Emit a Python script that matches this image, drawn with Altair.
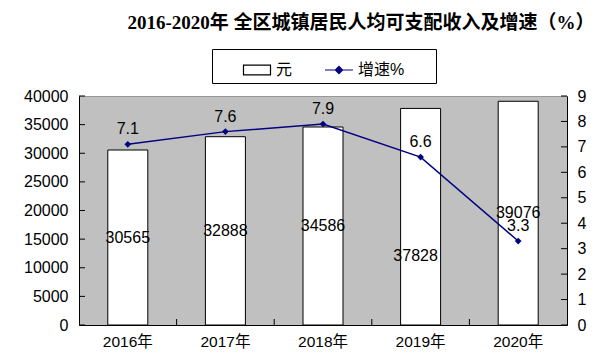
import altair as alt
import pandas as pd

years = ["2016年", "2017年", "2018年", "2019年", "2020年"]
income = [30565, 32888, 34586, 37828, 39076]
growth = [7.1, 7.6, 7.9, 6.6, 3.3]
left_ticks = [0, 5000, 10000, 15000, 20000, 25000, 30000, 35000, 40000]
right_ticks = [0, 1, 2, 3, 4, 5, 6, 7, 8, 9]
legend_items = ["元", "增速%"]
title_text = "2016-2020年 全区城镇居民人均可支配收入及增速（%）"

df = pd.DataFrame({"year": years, "income": income, "growth": growth})
df_lt = pd.DataFrame({"v": left_ticks})
df_rt = pd.DataFrame({"v": right_ticks})
df_bt = pd.DataFrame({"year": years[1:]})

# trailing invisible padding on the last legend label widens the legend frame
PAD = "\u00a0" * 6 + "\u200b"
legend_keys = [legend_items[0], legend_items[1] + PAD]
df_leg = pd.DataFrame({"item": legend_keys})

W, H = 488, 229
FONT = "Liberation Sans, Noto Sans CJK SC"
NAVY = "#000080"

xscale = alt.Scale(domain=years, paddingInner=0, paddingOuter=0)
xaxis = alt.Axis(labelAngle=0, ticks=False, tickSize=0, labelPadding=9,
                 labelFontSize=15.5, labelFont=FONT, labelColor="black",
                 domainColor="black", domainWidth=1, grid=False, title=None)
X = alt.X("year:N", sort=years, scale=xscale, axis=xaxis)

lscale = alt.Scale(domain=[0, 40000], nice=False)
laxis = alt.Axis(values=left_ticks, format="d", ticks=False, tickSize=0, labelPadding=11,
                 labelFontSize=16, labelFont=FONT, labelColor="black",
                 domainColor="black", grid=False, title=None)
rscale = alt.Scale(domain=[0, 9], nice=False)
raxis = alt.Axis(orient="right", values=right_ticks, format="d", ticks=False, tickSize=0,
                 labelPadding=10, labelFontSize=16, labelFont=FONT,
                 labelColor="black", domainColor="black", grid=False, title=None)

base = alt.Chart(df)

bars = base.mark_bar(size=40, fill="white", stroke="black", strokeWidth=1).encode(
    x=X, y=alt.Y("income:Q", scale=lscale, axis=laxis))

bar_labels = base.transform_calculate(mid="datum.income / 2").transform_filter(
    "datum.year != '2019年'").mark_text(fontSize=16, font=FONT, color="black").encode(
    x=X, y=alt.Y("mid:Q", scale=lscale, axis=laxis), text=alt.Text("income:Q", format="d"))

bar_label_2019 = base.transform_calculate(mid="datum.income / 2").transform_filter(
    "datum.year == '2019年'").mark_text(fontSize=16, font=FONT, color="black", dy=39, dx=-5).encode(
    x=X, y=alt.Y("mid:Q", scale=lscale, axis=laxis), text=alt.Text("income:Q", format="d"))

left_ticks_rules = alt.Chart(df_lt).mark_rule(color="black", strokeWidth=1).encode(
    y=alt.Y("v:Q", scale=lscale, axis=laxis), x=alt.value(0), x2=alt.value(6))

bottom_ticks_rules = alt.Chart(df_bt).mark_rule(color="black", strokeWidth=1).encode(
    x=alt.X("year:N", sort=years, scale=xscale, axis=xaxis, bandPosition=0),
    y=alt.value(H - 6), y2=alt.value(H))

rect_path = "M-0.9,-0.33H0.9V0.33H-0.9Z"
line_path = "M-0.93,0H0.93M0,-0.24L0.24,0L0,0.24L-0.24,0Z"
leg = alt.Legend(orient="none", legendX=133, legendY=-47, direction="horizontal",
                 title=None, strokeColor="black", fillColor="white", padding=5,
                 symbolSize=900, symbolStrokeWidth=1.2, symbolOffset=24,
                 labelOffset=3, columnPadding=6, labelFontSize=16, labelFont=FONT,
                 labelColor="black", symbolOpacity=1, labelLimit=300)
legend_layer = alt.Chart(df_leg).mark_point(filled=True, opacity=0).encode(
    x=alt.value(0), y=alt.value(0),
    fill=alt.Fill("item:N", sort=legend_keys,
                  scale=alt.Scale(domain=legend_keys, range=["white", NAVY]), legend=leg),
    stroke=alt.Stroke("item:N", sort=legend_keys,
                      scale=alt.Scale(domain=legend_keys, range=["black", NAVY]), legend=leg),
    shape=alt.Shape("item:N", sort=legend_keys,
                    scale=alt.Scale(domain=legend_keys, range=[rect_path, line_path]), legend=leg))

left = alt.layer(bars, bar_labels, bar_label_2019, left_ticks_rules, bottom_ticks_rules, legend_layer)

line = base.mark_line(color=NAVY, strokeWidth=1.5).encode(
    x=X, y=alt.Y("growth:Q", scale=rscale, axis=raxis))
pts = base.mark_point(shape="diamond", filled=True, color=NAVY, size=45, opacity=1).encode(
    x=X, y=alt.Y("growth:Q", scale=rscale, axis=raxis))
line_labels = base.mark_text(fontSize=16, font=FONT, color="black", dy=-15).encode(
    x=X, y=alt.Y("growth:Q", scale=rscale, axis=raxis), text=alt.Text("growth:Q", format=".1f"))
right_ticks_rules = alt.Chart(df_rt).mark_rule(color="black", strokeWidth=1).encode(
    y=alt.Y("v:Q", scale=rscale, axis=raxis), x=alt.value(W - 6), x2=alt.value(W))

right = alt.layer(line, pts, line_labels, right_ticks_rules)

chart = alt.layer(left, right).resolve_scale(y="independent").properties(
    width=W, height=H,
    padding={"left": 71, "top": 88, "right": 35, "bottom": 29},
    autosize=alt.AutoSizeParams(type="none"),
    background="white",
    title=alt.TitleParams(title_text, fontSize=19, fontWeight="bold",
                          font="Liberation Serif, Noto Sans CJK SC", color="black",
                          anchor="middle", dx=38, offset=16),
).configure_view(fill="#c0c0c0", stroke="#999999")

chart.save("out.html", embed_options={"renderer": "svg", "actions": False})
